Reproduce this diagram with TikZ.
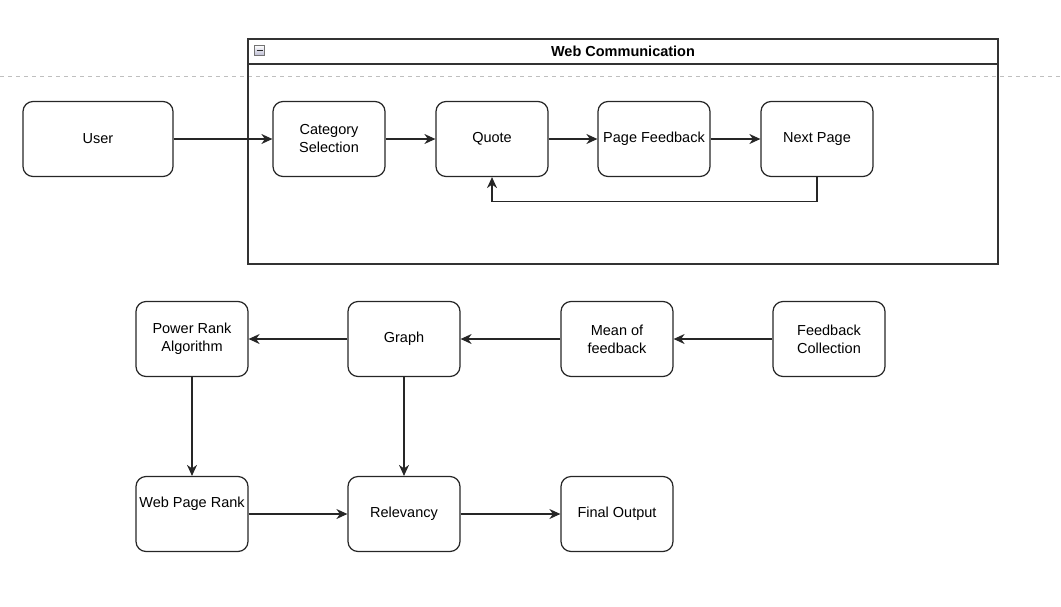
\documentclass[tikz,border=0pt]{standalone}
\usepackage{fontspec}
\setmainfont{Liberation Sans}
\usetikzlibrary{arrows.meta,positioning}
\begin{document}
\begin{tikzpicture}[x=1pt,y=-1pt,
  font=\fontsize{14.5pt}{18pt}\selectfont,
  box/.style={draw=black!85, line width=1.2pt, rounded corners=10pt, minimum width=112pt, minimum height=75pt, align=center, inner sep=0pt},
  conn/.style={line width=1.2pt, draw=black!85, -{Stealth[length=11pt,width=10pt,inset=3.5pt]}}]
\useasboundingbox (0,0) rectangle (1061,606);
% dashed guide line
\coordinate (dl) at (0,76);
\coordinate (dr) at (1061,76);
\draw[black!25, line width=1pt, dash pattern=on 4pt off 4pt] (dl) -- (dr);
% container
\node (cont) [draw=black!80, line width=1.4pt, minimum width=750pt, minimum height=225pt, inner sep=0pt] at (623,151.5) {};
\draw[black!80, line width=1.4pt] (cont.west |- 0,64) -- (cont.east |- 0,64);
\node (title) at (623,51.5) {\bfseries Web Communication};
\node (icon) [draw=black!55, line width=0.7pt, top color=white, bottom color=blue!20!gray!45, minimum size=10.5pt, inner sep=0pt] at (259.5,50.5) {};
\draw[black!85, line width=1.6pt] ([xshift=-3pt]icon.center) -- ([xshift=3pt]icon.center);
% top row
\node (user) [box, minimum width=150pt] at (98,139) {User};
\node (cat) [box] at (329,139) {Category\\Selection};
\node (quote) [box] at (492,139) {Quote};
\node (pf) [box] at (654,139) {Page Feedback};
\node (np) [box] at (817,139) {Next Page};
\draw[conn] (user) -- (cat);
\draw[conn] (cat) -- (quote);
\draw[conn] (quote) -- (pf);
\draw[conn] (pf) -- (np);
\draw[conn] (np.south) -- ++(0,24.5) -| (quote.south);
% bottom
\node (pra) [box] at (192,339) {Power Rank\\Algorithm};
\node (graph) [box] at (404,339) {Graph};
\node (mean) [box] at (617,339) {Mean of\\feedback};
\node (fc) [box] at (829,339) {Feedback\\Collection};
\node (wpr) [box] at (192,514) {Web Page Rank\\[6pt]\mbox{}};
\node (rel) [box] at (404,514) {Relevancy};
\node (fo) [box] at (617,514) {Final Output};
\draw[conn] (fc) -- (mean);
\draw[conn] (mean) -- (graph);
\draw[conn] (graph) -- (pra);
\draw[conn] (pra) -- (wpr);
\draw[conn] (graph) -- (rel);
\draw[conn] (wpr) -- (rel);
\draw[conn] (rel) -- (fo);
\end{tikzpicture}
\end{document}
